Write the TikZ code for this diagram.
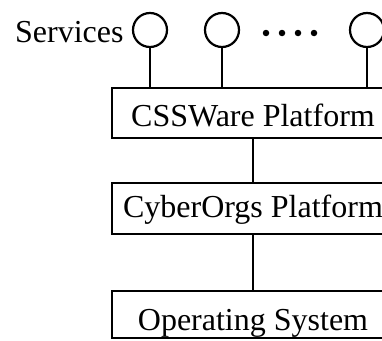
\documentclass[tikz,border=0pt]{standalone}
\usepackage{fontspec}
\setmainfont{Liberation Serif}
\begin{document}
\begin{tikzpicture}[x=1pt,y=-1pt,
  line width=2.2pt,
  layer/.style={draw, rectangle, inner sep=0pt, minimum width=282pt, anchor=base,
    font=\fontsize{32}{38}\selectfont},
  svc/.style={draw, circle, inner sep=0pt, minimum size=34pt},
  dotmark/.style={fill, circle, inner sep=0pt, minimum size=6.5pt},
  lbl/.style={inner sep=0pt, anchor=base west, font=\fontsize{32}{38}\selectfont}]
\useasboundingbox (0,0) rectangle (382,340);
\clip (0,0) rectangle (382,340);
\node[layer, text height=38pt, text depth=12pt] (css) at (253,126) {CSSWare Platform};
\node[layer, text height=34pt, text depth=17pt] (cyb) at (253,217) {CyberOrgs Platform};
\node[layer, text height=39pt, text depth=8pt] (os) at (253,330) {Operating System};
\node[svc] (s1) at (150,30) {};
\node[svc] (s2) at (222,30) {};
\node[svc] (s3) at (367,30) {};
\node[lbl] (services) at (14,42) {Services};
\node[dotmark] (d1) at (266,33) {};
\node[dotmark] (d2) at (282,33) {};
\node[dotmark] (d3) at (298,33) {};
\node[dotmark] (d4) at (314,33) {};
\draw (s1.south) -- (s1.south |- css.north);
\draw (s2.south) -- (s2.south |- css.north);
\draw (s3.south) -- (s3.south |- css.north);
\draw (css.south) -- (cyb.north);
\draw (cyb.south) -- (os.north);
\end{tikzpicture}
\end{document}
